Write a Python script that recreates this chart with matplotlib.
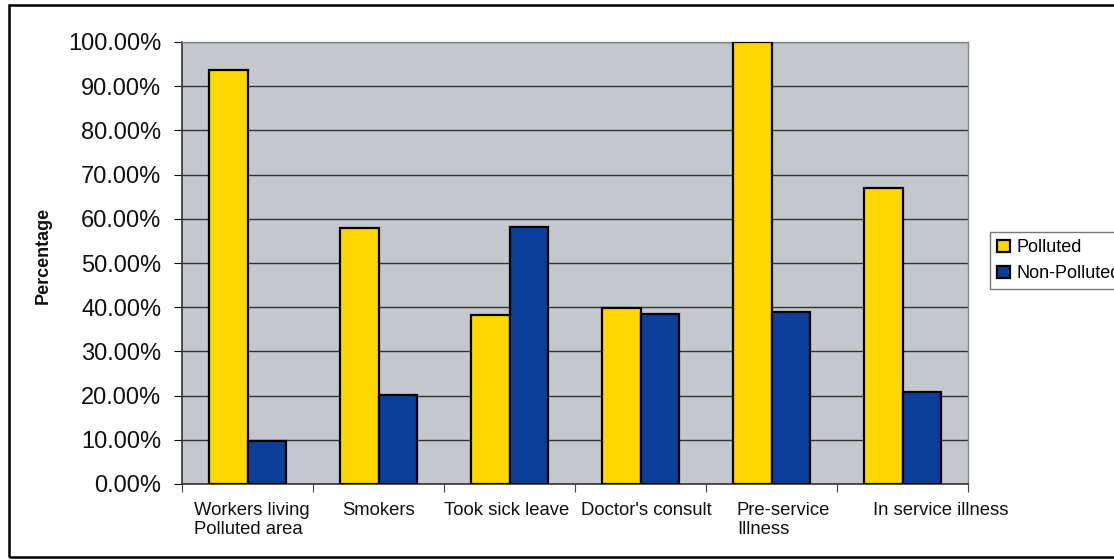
import matplotlib
matplotlib.use("Agg")
import matplotlib.pyplot as plt
import matplotlib.transforms as mtransforms
from matplotlib.patches import Rectangle
from matplotlib.ticker import FuncFormatter
import numpy as np

categories = ["Workers living\nPolluted area", "Smokers", "Took sick leave",
              "Doctor's consult", "Pre-service\nIllness", "In service illness"]
polluted = [93.7, 57.9, 38.2, 39.8, 100.0, 67.0]
non_polluted = [9.7, 20.1, 58.1, 38.5, 38.9, 20.8]
series_names = ["Polluted", "Non-Polluted"]

plt.rcParams["font.family"] = ["Liberation Sans", "DejaVu Sans"]

W, H = 1114, 560
fig = plt.figure(figsize=(W / 100, H / 100), dpi=100)
fig.patch.set_facecolor("white")

# plot area in pixel coordinates
x0, x1, y0, y1 = 182, 968, 42, 484
ax = fig.add_axes([x0 / W, 1 - y1 / H, (x1 - x0) / W, (y1 - y0) / H])
ax.set_facecolor("#c4c8cc")

x = np.arange(len(categories))
bw = 0.295
ax.bar(x - bw / 2, polluted, bw, color="#ffd700", edgecolor="black",
       linewidth=1.6, label=series_names[0], zorder=3)
ax.bar(x + bw / 2, non_polluted, bw, color="#0b3f9a", edgecolor="black",
       linewidth=1.6, label=series_names[1], zorder=3)

ax.set_xlim(-0.5, len(categories) - 0.5)
ax.set_ylim(0, 100)
ax.set_yticks(np.arange(0, 101, 10))
ax.yaxis.set_major_formatter(FuncFormatter(lambda v, p: f"{v:.2f}%"))
ax.grid(axis="y", color="#333333", linewidth=1.0, zorder=1)
ax.set_axisbelow(True)

ax.set_xticks(np.arange(len(categories) + 1) - 0.5, minor=False)
ax.set_xticklabels([])
ax.set_xticks(x, minor=True)
labels = ax.set_xticklabels(categories, minor=True, fontsize=13.3,
                            color="#111111", linespacing=1.15)
ax.tick_params(axis="x", which="minor", length=0, pad=13)
ax.tick_params(axis="x", which="major", length=6, color="#444444")
ax.tick_params(axis="y", labelsize=17, length=6, pad=9, colors="#111111")

# wrapped category names are left-aligned within their block,
# and the last one sits a little to the right of its slot
shifts_px = [4, 0, -3, 6, 12, 38]
for lab, dx in zip(labels, shifts_px):
    lab.set_multialignment("left")
    lab.set_transform(lab.get_transform() +
                      mtransforms.ScaledTranslation(dx / 100, 0,
                                                    fig.dpi_scale_trans))

for s in ["top", "right"]:
    ax.spines[s].set_color("#888888")
    ax.spines[s].set_linewidth(1.0)
for s in ["left", "bottom"]:
    ax.spines[s].set_color("#333333")
    ax.spines[s].set_linewidth(1.2)

fig.text(43 / W, 1 - 255 / H, "Percentage", rotation=90, fontsize=13,
         fontweight="bold", ha="center", va="center", color="#111111")

leg = fig.legend(loc="upper left", bbox_to_anchor=(990 / W, 1 - 232 / H),
                 fontsize=13, frameon=True, fancybox=False,
                 handlelength=0.7, handleheight=0.7, handletextpad=0.35,
                 borderpad=0.4, labelspacing=0.5, borderaxespad=0)
leg.get_frame().set_edgecolor("#555555")
leg.get_frame().set_linewidth(1.0)

# outer border of the chart
fig.patches.append(Rectangle((9 / W, 1 - 557 / H), (W + 20) / W, (557 - 5) / H,
                             transform=fig.transFigure, fill=False,
                             edgecolor="black", linewidth=1.8))

fig.savefig("out.png", dpi=100, facecolor="white")
